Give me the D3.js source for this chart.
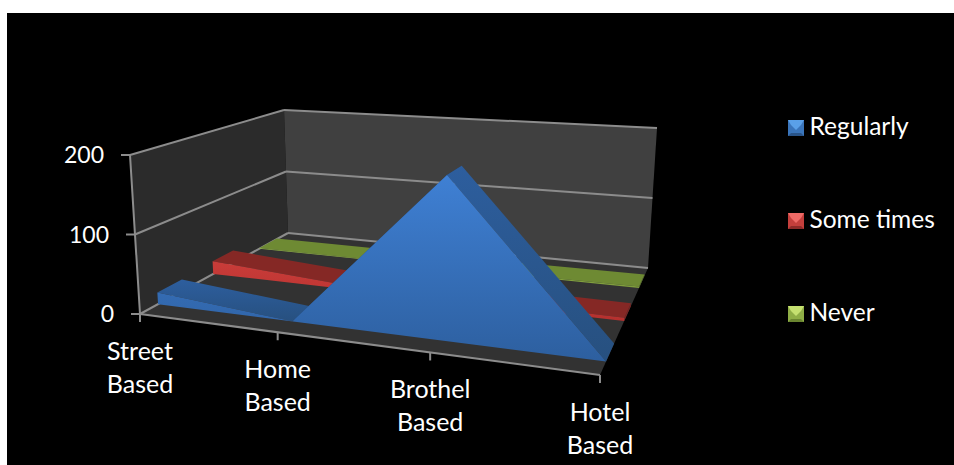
<!DOCTYPE html>
<html><head><meta charset="utf-8">
<script src="https://cdn.jsdelivr.net/npm/d3@7"></script>
<style>html,body{margin:0;padding:0;background:#fff}svg{display:block}text{font-family:Lato,sans-serif;fill:#fff}</style>
</head><body><svg id="c" width="954" height="465"></svg>
<script>
const categories = [["Street","Based"],["Home","Based"],["Brothel","Based"],["Hotel","Based"]];
const seriesNames = ["Regularly","Some times","Never"];
const regularly = [15, 0, 192, 0];
const someTimes = [18, 6, 5, 4];
const never = [1, 1, 1, 2];
const yTicks = [0, 100, 200];
const seriesColors = {
  "Regularly":  {hi:"#3f80d4", lo:"#2d5f9f", top:"#24497a", slope:"#2d5e9e", slopeLo:"#27507f", cap:"#2a5a96", lhi:"#5aa0e8", lmid:"#3a75bb", llo:"#295489"},
  "Some times": {hi:"#c93c39", lo:"#b5302e", top:"#852825", slope:"#852825", slopeLo:"#852825", cap:"#7a2422", lhi:"#ee6a66", lmid:"#c43f3c", llo:"#8e2b29"},
  "Never":      {hi:"#8fb046", lo:"#7e9c3c", top:"#6e8a33", slope:"#6e8a33", slopeLo:"#6e8a33", cap:"#617a2c", lhi:"#c5e070", lmid:"#8fae46", llo:"#6a8530"}
};
const valuesBySeries = {"Regularly":regularly,"Some times":someTimes,"Never":never};

// Corners of the floor and of the plane at the axis maximum, as seen in the picture
const floorQuad = [[140,314],[600,375],[648,268],[288,233]];
const topQuad   = [[130,155],[612,186],[657,128],[284,110]];

function homography(q){
  const [[x0,y0],[x1,y1],[x2,y2],[x3,y3]] = q;
  const dx1=x1-x2,dx2=x3-x2,dx3=x0-x1+x2-x3,dy1=y1-y2,dy2=y3-y2,dy3=y0-y1+y2-y3;
  const det=dx1*dy2-dx2*dy1;
  const g=(dx3*dy2-dx2*dy3)/det,h=(dx1*dy3-dx3*dy1)/det;
  const a=x1-x0+g*x1,b=x3-x0+h*x3,d=y1-y0+g*y1,e=y3-y0+h*y3;
  return (u,v)=>{const w=g*u+h*v+1;return [(a*u+b*v+x0)/w,(d*u+e*v+y0)/w];};
}
const Hfloor=homography(floorQuad), Htop=homography(topQuad);

const svg=d3.select("#c");
const names=categories.map(c=>c.join(" "));
const x=d3.scalePoint().domain(names).range([0,1]);
const depth=d3.scaleBand().domain(seriesNames).range([0,1]).paddingInner(0.58).paddingOuter(0.29);
const y=d3.scaleLinear().domain([0,200]).range([0,1]);
function P(u,d,v){
  const a=Hfloor(u,d),b=Htop(u,d),t=y(v);
  return [a[0]+(b[0]-a[0])*t,a[1]+(b[1]-a[1])*t];
}
const line=d3.line();
const poly=(pts,fill)=>svg.append("path").attr("d",line(pts)+"Z").attr("fill",fill);
const seg=(a,b,w=2,c="#8c8c8c")=>svg.append("path").attr("d",line([a,b])).attr("stroke",c).attr("stroke-width",w).attr("fill","none");

// panel
svg.append("rect").attr("x",7).attr("y",13).attr("width",947).attr("height",452).attr("fill","#000");
const defs=svg.append("defs");
function vgrad(id,stops){
  const g=defs.append("linearGradient").attr("id",id).attr("x1",0).attr("y1",0).attr("x2",0).attr("y2",1);
  stops.forEach(([o,c])=>g.append("stop").attr("offset",o).attr("stop-color",c));
  return `url(#${id})`;
}
// walls
poly([P(0,0,0),P(0,1,0),P(0,1,200),P(0,0,200)],"#2b2b2b");
poly([P(0,1,0),P(1,1,0),P(1,1,200),P(0,1,200)],"#404040");
poly([P(0,0,0),P(1,0,0),P(1,1,0),P(0,1,0)],"#323232");
// grid
yTicks.forEach(t=>{
  seg(P(0,0,t),P(0,1,t));
  seg(P(0,1,t),P(1,1,t));
});
seg(P(0,0,0),P(1,0,0));
seg(P(0,0,0),P(0,0,200));
// y axis
yTicks.forEach(t=>{
  const p=P(0,0,t);
  seg([p[0]-9,p[1]],p);
  svg.append("text").attr("x",p[0]-26).attr("y",p[1]+8).attr("text-anchor","end").attr("font-size",23).text(t);
});
// x axis
categories.forEach((c,i)=>{
  const p=P(x(names[i]),0,0);
  seg(p,[p[0],p[1]+8]);
  c.forEach((s,j)=>svg.append("text").attr("x",p[0]).attr("y",p[1]+46+j*33).attr("text-anchor","middle").attr("font-size",25).text(s));
});
// series, back to front
[...seriesNames].reverse().forEach((name,si)=>{
  const vals=valuesBySeries[name],col=seriesColors[name];
  const d0=depth(name),d1=d0+depth.bandwidth();
  vals.forEach((v,i)=>{
    if(i===vals.length-1)return;
    const u0=x(names[i]),u1=x(names[i+1]),w=vals[i+1];
    const fill = w<v ? vgrad(`s${si}${i}`,[[0,col.slope],[1,col.slopeLo]]) : col.top;
    poly([P(u0,d0,v),P(u1,d0,w),P(u1,d1,w),P(u0,d1,v)],fill);
  });
  const last=vals.length-1;
  poly([P(1,d0,0),P(1,d1,0),P(1,d1,vals[last]),P(1,d0,vals[last])],col.cap);
  const front=[...vals.map((v,i)=>P(x(names[i]),d0,v)),P(1,d0,0),P(0,d0,0)];
  poly(front,vgrad(`f${si}`,[[0,col.hi],[1,col.lo]]));
});
// legend
seriesNames.forEach((name,i)=>{
  const col=seriesColors[name],lx=788,ly=120+i*93,s=16;
  const g=svg.append("g").attr("transform",`translate(${lx},${ly})`);
  g.append("rect").attr("width",s).attr("height",s).attr("fill",col.lmid);
  g.append("path").attr("d",line([[0,0],[s,0],[s-3,s-11],[s/2,s-6],[3,s-11]])+"Z").attr("fill",col.lhi);
  g.append("path").attr("d",line([[3,s-3],[s-3,s-3],[s,s],[0,s]])+"Z").attr("fill",col.llo);
  g.append("text").attr("x",21.5).attr("y",15).attr("font-size",24.5).text(name);
});
</script></body></html>
